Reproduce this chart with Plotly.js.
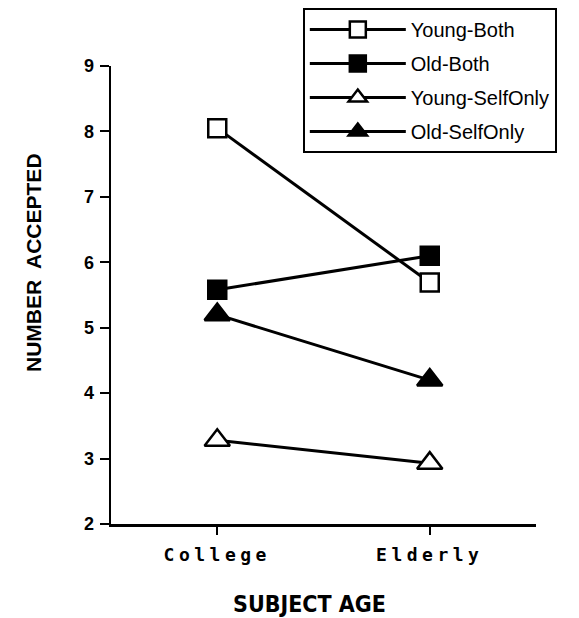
<!DOCTYPE html>
<html>
<head>
<meta charset="utf-8">
<script src="https://cdn.plot.ly/plotly-3.0.1.min.js"></script>
<style>
  html, body { margin: 0; padding: 0; background: #fff; }
  #chart { width: 579px; height: 618px; }
  .xtick text { letter-spacing: 4.5px; }
</style>
</head>
<body>
<div id="chart"></div>
<script>
const categories = ['College', 'Elderly'];
const seriesNames = ['Young-Both', 'Old-Both', 'Young-SelfOnly', 'Old-SelfOnly'];
const youngBoth = [8.05, 5.69];
const oldBoth = [5.58, 6.10];
const youngSelfOnly = [3.28, 2.93];
const oldSelfOnly = [5.20, 4.20];
const yTicks = [2, 3, 4, 5, 6, 7, 8, 9];
const xTitle = 'SUBJECT AGE';
const yTitle = 'NUMBER  ACCEPTED';

function trace(name, y, symbol, fill, size) {
  return {
    type: 'scatter', mode: 'lines+markers', name: name, legendgroup: name,
    x: categories, y: y,
    line: {color: '#000', width: 3},
    marker: {symbol: symbol, size: size, color: fill, line: {color: '#000', width: 2.5}},
    cliponaxis: false
  };
}

const data = [
  trace(seriesNames[0], youngBoth, 'square', '#fff', 18),
  trace(seriesNames[1], oldBoth, 'square', '#000', 18),
  trace(seriesNames[2], youngSelfOnly, 'triangle-up', '#fff', 22),
  trace(seriesNames[3], oldSelfOnly, 'triangle-up', '#000', 22)
];

const layout = {
  width: 579, height: 618,
  margin: {l: 111, r: 43, t: 66, b: 94, pad: 0, autoexpand: false},
  paper_bgcolor: '#fff', plot_bgcolor: '#fff',
  showlegend: true,
  legend: {
    xref: 'container', yref: 'container',
    x: 0.523, y: 0.987, xanchor: 'left', yanchor: 'top',
    bgcolor: '#fff', bordercolor: '#000', borderwidth: 2,
    font: {family: 'Liberation Sans, Arial, sans-serif', size: 20, color: '#000'},
    tracegroupgap: 5, itemwidth: 96, traceorder: 'grouped'
  },
  xaxis: {
    type: 'category', range: [-0.5, 1.5],
    showgrid: false, zeroline: false,
    showline: true, linecolor: '#000', linewidth: 2.5,
    ticks: 'outside', ticklen: 8, tickwidth: 2, tickcolor: '#000',
    tickfont: {family: 'DejaVu Sans Mono, monospace', size: 18, color: '#000', weight: 'bold'},
    ticklabelstandoff: 5,
    fixedrange: true
  },
  yaxis: {
    range: [2, 9], tickvals: yTicks, ticktext: yTicks.map(String),
    showgrid: false, zeroline: false,
    showline: true, linecolor: '#000', linewidth: 2.5,
    ticks: 'outside', ticklen: 9, tickwidth: 2, tickcolor: '#000',
    tickfont: {family: 'Liberation Sans, Arial, sans-serif', size: 18, color: '#000', weight: 'bold'},
    ticklabelstandoff: 2,
    fixedrange: true
  },
  annotations: [
    {text: '<b>' + xTitle + '</b>', xref: 'paper', yref: 'paper', x: 0.466, y: -0.175,
     xanchor: 'center', yanchor: 'middle', showarrow: false,
     font: {family: 'Liberation Sans Narrow, DejaVu Sans Condensed, Arial Narrow, sans-serif', size: 23, color: '#000'}},
    {text: '<b>' + yTitle + '</b>', xref: 'paper', yref: 'paper', x: -0.181, y: 0.570,
     xanchor: 'center', yanchor: 'middle', showarrow: false, textangle: -90,
     font: {family: 'Liberation Sans, Arial, sans-serif', size: 21, color: '#000'}}
  ]
};

Plotly.newPlot('chart', data, layout, {displayModeBar: false, staticPlot: true});
</script>
</body>
</html>
